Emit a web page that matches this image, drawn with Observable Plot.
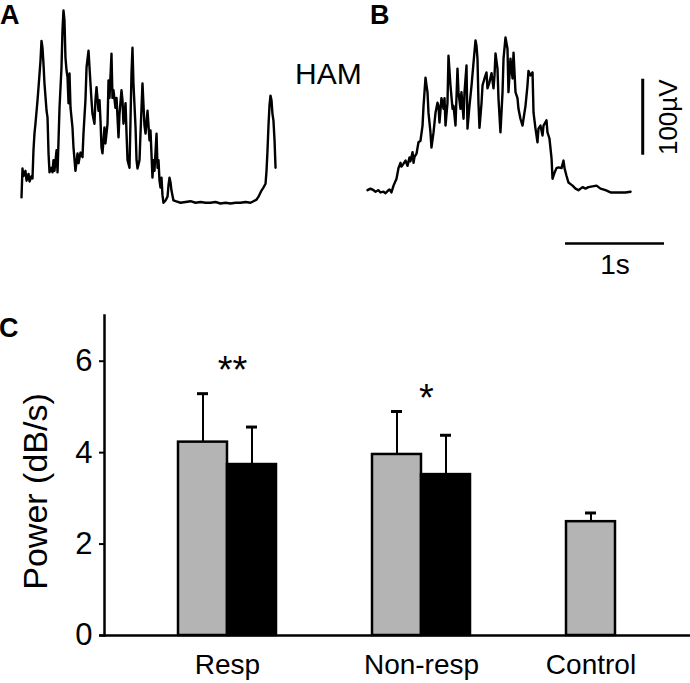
<!DOCTYPE html>
<html><head><meta charset="utf-8">
<script src="https://cdn.jsdelivr.net/npm/d3@7"></script>
<script src="https://cdn.jsdelivr.net/npm/@observablehq/plot@0.6"></script>
<style>
body{margin:0;background:#fff;}
#fig{position:relative;width:690px;height:683px;overflow:hidden;font-family:"Liberation Sans",Arial,sans-serif;color:#000;background:#fff;}
#fig svg{position:absolute;overflow:visible;}
.lbl{position:absolute;line-height:1;white-space:nowrap;}
.bold{font-weight:bold;}
</style></head><body>
<div id="fig"></div>
<script>
// ---------- DATA ----------
// Panel A: rectified EMG trace (time in s, amplitude in µV)
const traceA_time = [0.000,0.010,0.020,0.040,0.051,0.071,0.081,0.101,0.111,0.121,
0.131,0.141,0.162,0.172,0.192,0.202,0.212,0.222,0.232,0.253,
0.263,0.273,0.283,0.303,0.313,0.323,0.333,0.354,0.364,0.374,
0.384,0.404,0.414,0.424,0.434,0.444,0.455,0.465,0.475,0.485,
0.495,0.515,0.525,0.545,0.566,0.576,0.596,0.616,0.626,0.646,
0.657,0.677,0.687,0.707,0.717,0.737,0.747,0.758,0.778,0.788,
0.798,0.808,0.818,0.838,0.848,0.869,0.879,0.889,0.909,0.919,
0.929,0.949,0.960,0.980,0.990,1.010,1.020,1.030,1.051,1.061,
1.071,1.091,1.101,1.111,1.121,1.131,1.152,1.162,1.172,1.192,
1.202,1.222,1.242,1.253,1.273,1.293,1.303,1.323,1.333,1.343,
1.364,1.374,1.384,1.394,1.404,1.414,1.424,1.434,1.455,1.475,
1.485,1.495,1.505,1.515,1.535,1.556,1.606,
1.657,1.707,1.758,1.808,1.859,1.909,1.960,2.010,2.061,2.111,2.162,2.212,2.263,2.313,
2.343,2.374,2.394,2.424,2.444,2.465,2.475,2.485,2.495,2.505,2.515,2.525,2.535,2.545,2.556,2.566];
const traceA_uV = [8,46,36,43,30,39,29,36,33,70,
92,105,136,153,188,214,205,184,158,122,
113,66,41,47,41,57,43,70,41,83,
126,179,228,254,241,192,175,166,132,171,
126,100,74,43,66,53,67,61,92,136,
179,201,179,136,118,105,136,153,122,136,
109,74,66,100,79,105,162,139,197,139,
149,126,139,87,118,149,136,105,132,92,
57,47,109,171,205,158,100,57,46,57,
92,158,103,92,122,83,96,34,57,43,
92,47,57,30,21,34,11,1,4,9,
24,34,28,17,4,3,1,
2,3,1,2,1,1,2,0,1,0,1,1,2,1,
3,5,9,17,21,26,43,70,103,129,142,136,118,109,83,47];

// Panel B: rectified EMG trace (time in s, amplitude in µV)
const traceB_time = [0.000,0.030,0.061,0.081,0.111,0.131,0.162,0.182,0.212,0.222,
0.242,0.263,0.293,0.313,0.333,0.343,0.364,0.384,0.404,0.424,
0.434,0.455,0.465,0.475,0.495,0.515,0.535,0.556,0.566,0.586,
0.596,0.606,0.616,0.636,0.646,0.667,0.677,0.687,0.707,0.717,
0.727,0.747,0.768,0.778,0.788,0.808,0.818,0.838,0.859,0.869,
0.889,0.909,0.919,0.939,0.949,0.970,0.980,1.000,1.010,1.030,
1.051,1.071,1.091,1.101,1.111,1.121,1.131,1.152,1.162,1.182,
1.202,1.212,1.232,1.253,1.273,1.283,1.293,1.313,1.323,1.343,
1.364,1.374,1.394,1.414,1.424,1.444,1.465,1.475,1.495,1.515,
1.525,1.545,1.566,1.576,1.596,1.616,1.626,1.646,1.667,1.677,
1.697,1.717,1.727,1.747,1.768,1.778,1.808,1.818,1.838,1.859,
1.869,1.889,1.909,1.929,1.960,1.980,1.990,2.010,2.030,2.071,
2.101,2.131,2.172,2.202,2.232,2.273,2.313,2.354,2.404,2.455,
2.505,2.556,2.606,2.657];
const traceB_uV = [7,9,7,5,7,4,5,3,7,8,
4,13,22,36,43,38,42,46,39,50,
45,57,43,51,55,70,72,92,118,155,
145,136,109,83,63,83,96,109,122,118,
96,128,114,128,92,122,184,145,114,118,
92,167,136,114,136,101,136,171,88,118,
145,175,204,197,180,122,89,122,145,154,
162,141,149,161,141,158,187,167,128,83,
136,180,208,193,136,180,154,188,136,128,
114,101,92,101,118,145,164,158,162,109,
88,70,88,92,79,92,99,83,75,49,
22,30,36,37,36,46,36,26,17,13,
9,7,11,9,11,12,13,9,7,4,
4,4,4,5];

// Scale bars
const scaleBarAmp = 100;   // µV
const scaleBarTime = 1;    // s

// Panel C: power (dB/s), mean + SEM
const groups = ["Resp", "Non-resp", "Control"];
const seriesNames = ["Pattern A", "Pattern B"];
const barGroup  = ["Resp", "Resp", "Non-resp", "Non-resp", "Control"];
const barSeries = ["Pattern A", "Pattern B", "Pattern A", "Pattern B", "Pattern A"];
const barMean   = [4.23, 3.74, 3.96, 3.52, 2.49];
const barSEM    = [1.06, 0.82, 0.94, 0.86, 0.19];
const sigGroup  = ["Resp", "Non-resp"];
const sigLabel  = ["**", "*"];
const sigY      = [5.80, 5.17];
const yTicks    = [0, 2, 4, 6];
const yLabel    = "Power (dB/s)";

// ---------- LAYOUT / STYLE ----------
const FONT = '"Liberation Sans", Arial, sans-serif';
const baseStyle = {fontFamily: FONT, color: "#000", background: "transparent", overflow: "visible"};
const PX_PER_S = 99, PX_PER_UV = 0.76;
const fig = document.getElementById("fig");

function place(el, left, top) {
  el.style.position = "absolute";
  el.style.left = left + "px";
  el.style.top = top + "px";
  fig.appendChild(el);
  return el;
}
function label(text, left, top, size, bold) {
  const d = document.createElement("div");
  d.className = "lbl" + (bold ? " bold" : "");
  d.textContent = text;
  d.style.fontSize = size + "px";
  return place(d, left, top);
}

function tracePlot(time, uV, originX, originY, w, h, extra) {
  const pts = time.map((t, i) => ({t, v: uV[i]}));
  return Plot.plot({
    width: w, height: h, margin: 0,
    style: baseStyle,
    x: {domain: [0, (w - originX) / PX_PER_S], range: [originX, w], axis: null},
    y: {domain: [0, originY / PX_PER_UV], range: [originY, 0], axis: null},
    marks: [
      Plot.line(pts, {x: "t", y: "v", stroke: "#000", strokeWidth: 2.4, strokeLinejoin: "round"}),
      ...(extra || [])
    ]
  });
}

// Panel A
place(tracePlot(traceA_time, traceA_uV, 21, 203, 345, 290), 0, 0);

// Panel B with scale bars
const SB = {ampT: 2.78, ampV0: 53, ampLabelT: 3.04, timeV: -63, timeT0: 2.0, timeLabelV: -91};
place(tracePlot(traceB_time, traceB_uV, 22, 195, 345, 290, [
  Plot.ruleX([scaleBarAmp], {x: () => SB.ampT, y1: () => SB.ampV0, y2: d => SB.ampV0 + d, stroke: "#000", strokeWidth: 3}),
  Plot.ruleY([scaleBarTime], {y: () => SB.timeV, x1: () => SB.timeT0, x2: d => SB.timeT0 + d, stroke: "#000", strokeWidth: 2.5}),
  Plot.text([scaleBarAmp], {x: () => SB.ampLabelT, y: d => SB.ampV0 + d / 2, text: d => `${d}µV`, rotate: -90, fontSize: 26, fill: "#000"}),
  Plot.text([scaleBarTime], {x: d => SB.timeT0 + d / 2, y: () => SB.timeLabelV, text: d => `${d}s`, fontSize: 28, fill: "#000"})
]), 345, 0);

// Panel C bar chart
const C = {W: 690, H: 393, mL: 104, mR: 0, mT: 25, mB: 48, PI: 0.496, PO: 0.2545, ALIGN: 0.737};
const step = (C.W - C.mL - C.mR) / (groups.length - C.PI + 2 * C.PO);
const bw = step * (1 - C.PI);
const half = bw / 2, quarter = bw / 4, capHalf = 5.5;

const bars = barGroup.map((g, i) => ({group: g, series: barSeries[i], mean: barMean[i], sem: barSEM[i]}));
const grayBars = bars.filter(d => d.series === seriesNames[0]);
const blackBars = bars.filter(d => d.series === seriesNames[1]);
const sig = sigGroup.map((g, i) => ({group: g, label: sigLabel[i], y: sigY[i]}));
const pairGroups = groups.filter(g => bars.filter(d => d.group === g).length > 1);
const singleGroups = groups.filter(g => bars.filter(d => d.group === g).length === 1);

const plotC = Plot.plot({
  width: C.W, height: C.H,
  marginLeft: C.mL, marginRight: C.mR, marginTop: C.mT, marginBottom: C.mB,
  style: baseStyle,
  x: {type: "band", domain: groups, paddingInner: C.PI, paddingOuter: C.PO, align: C.ALIGN, axis: null},
  y: {domain: [0, 7], axis: null},
  marks: [
    Plot.barY(grayBars, {x: "group", y: "mean", fill: "#b4b4b4", stroke: "#000", strokeWidth: 2.5, insetRight: half}),
    Plot.barY(blackBars, {x: "group", y: "mean", fill: "#000", stroke: "#000", strokeWidth: 2.5, insetLeft: half}),
    Plot.ruleX(grayBars, {x: "group", y1: "mean", y2: d => d.mean + d.sem, dx: -quarter, stroke: "#000", strokeWidth: 2}),
    Plot.ruleX(blackBars, {x: "group", y1: "mean", y2: d => d.mean + d.sem, dx: quarter, stroke: "#000", strokeWidth: 2}),
    Plot.tickY(grayBars, {x: "group", y: d => d.mean + d.sem, insetLeft: quarter - capHalf, insetRight: bw - quarter - capHalf, stroke: "#000", strokeWidth: 3}),
    Plot.tickY(blackBars, {x: "group", y: d => d.mean + d.sem, insetLeft: 3 * quarter - capHalf, insetRight: quarter - capHalf, stroke: "#000", strokeWidth: 3}),
    Plot.ruleY([0], {insetLeft: -5, stroke: "#000", strokeWidth: 2.5}),
    Plot.frame({anchor: "left", stroke: "#000", strokeWidth: 2.5}),
    Plot.axisY({ticks: yTicks, tickSize: 5, tickPadding: 7, fontSize: 31, strokeWidth: 2, label: null, tickFormat: d => String(d), fill: "#000", stroke: "#000"}),
    Plot.text([yLabel], {frameAnchor: "left", textAnchor: "middle", rotate: -90, dx: -68, dy: 16, fontSize: 34, fill: "#000"}),
    Plot.text(pairGroups, {x: d => d, y: () => 0, text: d => d, lineAnchor: "bottom", dy: 38, fontSize: 28, fill: "#000"}),
    Plot.text(singleGroups, {x: d => d, y: () => 0, text: d => d, lineAnchor: "bottom", dy: 38, dx: -quarter, fontSize: 28, fill: "#000"}),
    Plot.text(sig, {x: "group", y: "y", text: "label", fontSize: 38, dx: 5, fill: "#000"})
  ]
});
place(plotC, 0, 290);

// Panel letters and annotation
label("A", 0, 1.5, 27, true);
label("B", 370, 1.5, 27, true);
label("C", -1, 314.5, 27, true);
label("HAM", 295, 59, 30, false);
</script>
</body></html>
